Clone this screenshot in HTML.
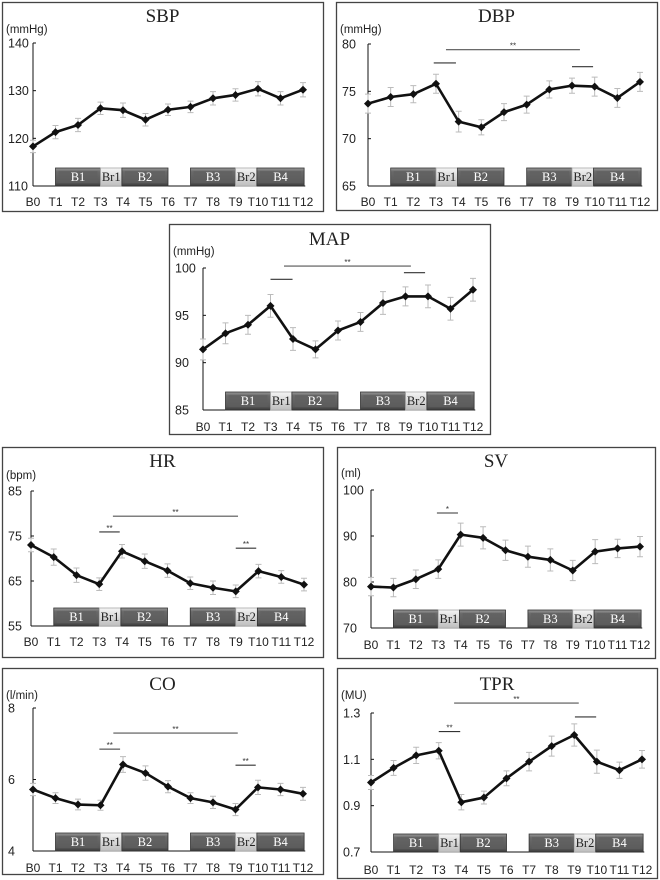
<!DOCTYPE html>
<html><head><meta charset="utf-8">
<style>
html,body{margin:0;padding:0;background:#fff;}
svg{display:block;}
</style></head>
<body>
<svg id="fig" width="660" height="880" viewBox="0 0 660 880" xmlns="http://www.w3.org/2000/svg">
<defs>
<linearGradient id="blk" x1="0" y1="0" x2="0" y2="1">
<stop offset="0" stop-color="#9a9a9a"/><stop offset="0.2" stop-color="#6a6a6a"/><stop offset="0.8" stop-color="#5a5a5a"/><stop offset="1" stop-color="#3a3a3a"/>
</linearGradient>
<linearGradient id="brk" x1="0" y1="0" x2="0" y2="1">
<stop offset="0" stop-color="#f4f4f4"/><stop offset="1" stop-color="#bdbdbd"/>
</linearGradient>
</defs>
</svg>
<script>
const timeLabels = ["B0","T1","T2","T3","T4","T5","T6","T7","T8","T9","T10","T11","T12"];
const sbpValues = [118.3,121.3,122.8,126.3,125.9,123.9,126.0,126.6,128.4,129.1,130.4,128.4,130.2];
const sbpErrors = [1.3,1.4,1.4,1.3,1.5,1.3,1.2,1.2,1.4,1.3,1.5,1.4,1.5];
const sbpTicks = [110,120,130,140];
const dbpValues = [73.7,74.4,74.7,75.8,71.8,71.2,72.8,73.6,75.2,75.6,75.5,74.3,76.0];
const dbpErrors = [1.0,1.0,0.9,1.0,1.1,0.8,0.9,0.9,0.9,0.8,1.0,1.0,1.0];
const dbpTicks = [65,70,75,80];
const mapValues = [91.4,93.1,94.0,96.0,92.5,91.4,93.4,94.3,96.3,97.0,97.0,95.7,97.7];
const mapErrors = [1.1,1.1,1.0,1.2,1.2,0.9,1.0,1.0,1.2,1.0,1.2,1.2,1.2];
const mapTicks = [85,90,95,100];
const hrValues = [73.0,70.3,66.3,64.3,71.6,69.4,67.3,64.5,63.5,62.7,67.2,65.9,64.2];
const hrErrors = [1.5,1.8,1.6,1.4,1.5,1.6,1.5,1.4,1.5,1.4,1.5,1.4,1.4];
const hrTicks = [55,65,75,85];
const svValues = [79.0,78.8,80.6,82.8,90.3,89.6,86.9,85.5,84.8,82.5,86.6,87.3,87.7];
const svErrors = [2.0,2.0,2.0,2.0,2.5,2.4,2.2,2.3,2.4,2.2,2.6,2.0,2.2];
const svTicks = [70,80,90,100];
const coValues = [5.72,5.48,5.30,5.28,6.42,6.18,5.80,5.48,5.36,5.16,5.78,5.72,5.60];
const coErrors = [0.17,0.15,0.15,0.14,0.22,0.20,0.17,0.15,0.17,0.17,0.2,0.17,0.18];
const coTicks = [4,6,8];
const tprValues = [1.0,1.063,1.117,1.137,0.915,0.935,1.018,1.09,1.157,1.205,1.09,1.053,1.10];
const tprErrors = [0.03,0.032,0.035,0.035,0.033,0.028,0.032,0.04,0.043,0.048,0.05,0.035,0.038];
const tprTicks = [0.7,0.9,1.1,1.3];
const blockNames = ["B1","Br1","B2","B3","Br2","B4"];
const blockStart = [1.0,3.0,3.95,7.0,9.0,9.95];
const blockEnd = [3.0,3.95,6.0,9.0,9.95,12.05];
/* significance bars: [fromIndex, toIndex, value, label] */
const dbpSig = [[2.9,3.88,78.0,""],[3.44,9.35,79.4,"**"],[9.0,9.93,77.6,""]];
const mapSig = [[3.0,3.98,98.8,""],[3.6,9.24,100.2,"**"],[8.93,9.87,99.5,""]];
const hrSig = [[3.0,3.9,75.9,"**"],[3.6,9.1,79.4,"**"],[9.0,9.9,72.3,"**"]];
const svSig = [[2.94,3.88,95.0,"*"]];
const coSig = [[2.95,3.87,6.85,"**"],[3.57,9.1,7.3,"**"],[9.0,9.9,6.4,"**"]];
const tprSig = [[3.0,3.95,1.22,"**"],[3.68,9.2,1.343,"**"],[9.03,9.97,1.283,""]];

const svg = document.getElementById('fig');
const NS = 'http://www.w3.org/2000/svg';
function mk(tag, attrs, parent){
  const e = document.createElementNS(NS, tag);
  for (const k in attrs) e.setAttribute(k, attrs[k]);
  parent.appendChild(e);
  return e;
}
function txt(s, attrs, parent){ const t = mk('text', attrs, parent); t.textContent = s; return t; }

const panels = [
  {id:'sbp', title:'SBP', unit:'(mmHg)', box:[2,2,321,209], x0:33, x1:303, yT:43, yB:186, lab:202, tY:22, uY:33, vals:sbpValues, errs:sbpErrors, ticks:sbpTicks, sig:[], dec:0},
  {id:'dbp', title:'DBP', unit:'(mmHg)', box:[336,2,321,208], x0:368, x1:640, yT:44, yB:186, lab:202, tY:22, uY:33, vals:dbpValues, errs:dbpErrors, ticks:dbpTicks, sig:dbpSig, dec:0},
  {id:'map', title:'MAP', unit:'(mmHg)', box:[169,224,321,210], x0:203, x1:473, yT:268, yB:410, lab:427, tY:245, uY:255, vals:mapValues, errs:mapErrors, ticks:mapTicks, sig:mapSig, dec:0},
  {id:'hr', title:'HR', unit:'(bpm)', box:[2,447,321,210], x0:31, x1:304, yT:491, yB:626, lab:642, tY:467, uY:479, vals:hrValues, errs:hrErrors, ticks:hrTicks, sig:hrSig, dec:0},
  {id:'sv', title:'SV', unit:'(ml)', box:[337,447,318,211], x0:371, x1:640, yT:490, yB:628, lab:645, tY:467, uY:477, vals:svValues, errs:svErrors, ticks:svTicks, sig:svSig, dec:0},
  {id:'co', title:'CO', unit:'(l/min)', box:[2,668,321,206], x0:33, x1:303, yT:708, yB:851, lab:868, tY:690, uY:699, vals:coValues, errs:coErrors, ticks:coTicks, sig:coSig, dec:0},
  {id:'tpr', title:'TPR', unit:'(MU)', box:[337,668,320,210], x0:371, x1:642, yT:713, yB:852, lab:870, tY:690, uY:699, vals:tprValues, errs:tprErrors, ticks:tprTicks, sig:tprSig, dec:1}
];

panels.forEach(p => {
  const g = mk('g', {}, svg);
  
  
  const [bx,by,bw,bh] = p.box;
  const frame = mk('rect', {x:bx+0.5, y:by+0.5, width:bw, height:bh, fill:'#fff', stroke:'#444', 'stroke-width':1.3}, g);
  
  
  const tmin = p.ticks[0], tmax = p.ticks[p.ticks.length-1];
  const xS = i => p.x0 + (p.x1 - p.x0) * i / 12;
  const yS = v => p.yB - (v - tmin) / (tmax - tmin) * (p.yB - p.yT);

  const title = txt(p.title, {x: bx + bw/2, y: p.tY, 'text-anchor':'middle', 'font-family':'"Liberation Serif", serif', 'font-size':19, fill:'#222'}, g);
  
  
  const unit = txt(p.unit, {x: bx + 4, y: p.uY, 'font-family':'"Liberation Sans", sans-serif', 'font-size':11.5, fill:'#222'}, g);
  
  

  const ya = mk('line', {x1:p.x0, y1:p.yT, x2:p.x0, y2:p.yB, stroke:'#111', 'stroke-width':1}, g);
  
  
  const xa = mk('line', {x1:p.x0, y1:p.yB, x2:xS(12.1), y2:p.yB, stroke:'#111', 'stroke-width':1}, g);
  
  
  p.ticks.forEach(t => {
    const y = yS(t);
    mk('line', {x1:p.x0, y1:y, x2:p.x0+3, y2:y, stroke:'#111', 'stroke-width':1}, g);
    const tl = txt(p.dec ? t.toFixed(1) : String(t), {x: bx + 6, y: y + 4.5, 'font-family':'"Liberation Sans", sans-serif', 'font-size':12.5, fill:'#222'}, g);
    
    
  });
  timeLabels.forEach((l, i) => {
    const xl = txt(l, {x: xS(i), y: p.lab + 4, 'text-anchor':'middle', 'font-family':'"Liberation Sans", sans-serif', 'font-size':12, fill:'#222'}, g);
    
    
  });

  blockNames.forEach((n, i) => {
    const isBr = n.startsWith('Br');
    const xa0 = xS(blockStart[i]), xa1 = xS(blockEnd[i]);
    const bg = mk('g', {}, g);
    
    
    mk('rect', {x:xa0, y:p.yB-18, width:xa1-xa0, height:18, fill: isBr ? 'url(#brk)' : 'url(#blk)', stroke: isBr ? '#aaa' : '#333', 'stroke-width':0.8}, bg);
    if (!isBr) mk('rect', {x:xa0+3, y:p.yB-15, width:xa1-xa0-6, height:12, fill:'#5f5f5f', opacity:0.6}, bg);
    txt(n, {x:(xa0+xa1)/2, y:p.yB-5, 'text-anchor':'middle', 'font-family':'"Liberation Serif", serif', 'font-size':12.5, fill: isBr ? '#222' : '#fff'}, bg);
  });

  p.sig.forEach(s => {
    const sg = mk('g', {}, g);
    
    
    const long = (s[1] - s[0]) > 2;
    mk('line', {x1:xS(s[0]), y1:yS(s[2]), x2:xS(s[1]), y2:yS(s[2]), stroke: long ? '#555' : '#333', 'stroke-width':1.1}, sg);
    if (s[3]) txt(s[3], {x:(xS(s[0])+xS(s[1]))/2, y:yS(s[2])-1, 'text-anchor':'middle', 'font-family':'"Liberation Sans", sans-serif', 'font-size':8, fill:'#333'}, sg);
  });

  p.vals.forEach((v, i) => {
    const x = xS(i), e = p.errs[i];
    const eb = mk('path', {d:`M${x},${yS(v+e)}V${yS(v-e)}M${x-3},${yS(v+e)}h6M${x-3},${yS(v-e)}h6`, stroke:'#bbb', 'stroke-width':1, fill:'none'}, g);
    
    
  });
  const pts = p.vals.map((v, i) => xS(i) + ',' + yS(v)).join(' ');
  const line = mk('polyline', {points:pts, fill:'none', stroke:'#111', 'stroke-width':2.6, 'stroke-linejoin':'round'}, g);
  
  
  p.vals.forEach((v, i) => {
    const x = xS(i), y = yS(v);
    const m = mk('path', {d:`M${x},${y-4}L${x+4},${y}L${x},${y+4}L${x-4},${y}Z`, fill:'#111'}, g);
    
    
  });
});
</script>
</body></html>
